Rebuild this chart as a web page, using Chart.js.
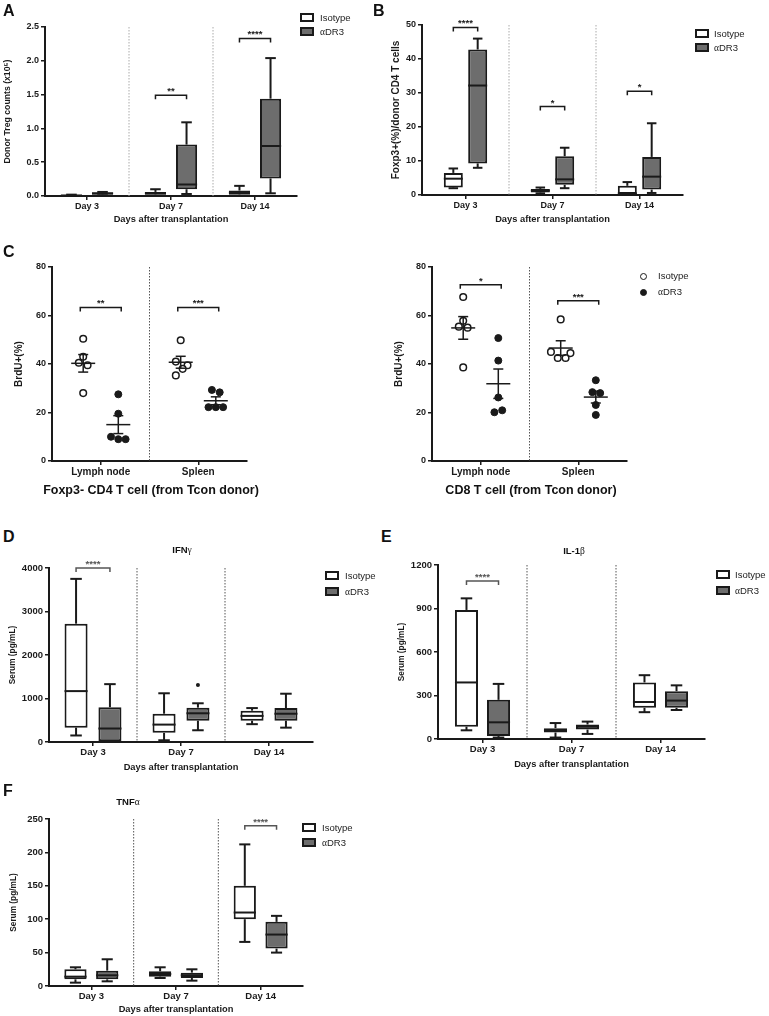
<!DOCTYPE html>
<html>
<head>
<meta charset="utf-8">
<script src="https://cdn.jsdelivr.net/npm/chart.js@4.4.1/dist/chart.umd.min.js"></script>
<style>
  body { margin: 0; background: #fff; font-family: "Liberation Sans", Arial, sans-serif; }
  #page { position: relative; width: 769px; height: 1016px; overflow: hidden; }
  #page canvas { position: absolute; }
  .letter { position: absolute; font-size: 16px; line-height: 16px; font-weight: bold; color: #111; }
  .txt { position: absolute; white-space: nowrap; color: #222; }
  .sw { position: absolute; box-sizing: border-box; border: 2px solid #1a1a1a; }
  .dot { position: absolute; box-sizing: border-box; border-radius: 50%; border: 1.5px solid #1a1a1a; }
  .gk { font-family: "Liberation Serif", "DejaVu Serif", serif; font-weight: normal; }
</style>
</head>
<body>
<div id="page">
  <canvas id="chartA"></canvas>
  <canvas id="chartB"></canvas>
  <canvas id="chartC1"></canvas>
  <canvas id="chartC2"></canvas>
  <canvas id="chartD"></canvas>
  <canvas id="chartE"></canvas>
  <canvas id="chartF"></canvas>
</div>
<script>
// ---- DATA ----
// box plots: one [min, q1, median, q3, max] entry per day
const DAYS = ["Day 3", "Day 7", "Day 14"];

// A: donor Treg counts (x10^5)
const tregIso = [[0.002, 0.005, 0.008, 0.012, 0.02], [0.0, 0.02, 0.04, 0.06, 0.10], [0.0, 0.02, 0.05, 0.08, 0.15]];
const tregDr3 = [[0.01, 0.02, 0.04, 0.05, 0.06], [0.03, 0.10, 0.17, 0.76, 1.09], [0.04, 0.26, 0.74, 1.44, 2.04]];
const tregStars = [null, "**", "****"];
const tregStarY = [null, 1.49, 2.33];

// B: Foxp3+ (%) of donor CD4 T cells
const foxIso = [[2.0, 2.2, 4.8, 6.5, 7.8], [0.5, 0.7, 1.3, 1.8, 2.2], [0.2, 0.3, 0.5, 2.7, 3.8]];
const foxDr3 = [[8.0, 9.3, 32.2, 42.8, 46.0], [2.0, 3.0, 4.6, 11.4, 13.9], [0.6, 1.6, 5.4, 11.2, 21.1]];
const foxStars = ["****", "*", "*"];
const foxStarY = [49.3, 26, 30.5];

// C: BrdU+ (%) per mouse
const SITES = ["Lymph node", "Spleen"];
const cd4IsoLn = [50.4, 43.0, 40.5, 39.5, 28.0];
const cd4IsoSp = [49.8, 41.0, 39.5, 38.0, 35.3];
const cd4Dr3Ln = [27.5, 19.5, 10.0, 9.0, 9.0];
const cd4Dr3Sp = [29.3, 28.3, 22.2, 22.2, 22.2];
const cd8IsoLn = [67.6, 57.8, 55.4, 55.0, 38.6];
const cd8IsoSp = [58.4, 45.0, 42.5, 42.5, 44.5];
const cd8Dr3Ln = [50.7, 41.4, 26.2, 20.9, 20.1];
const cd8Dr3Sp = [33.3, 28.4, 28.0, 23.1, 19.0];
// sideways spread of the dots inside one column (x axis units)
const cd4IsoLnJit = [0, 0, -0.045, 0.045, 0];
const cd4IsoSpJit = [0, -0.05, 0.07, 0.02, -0.05];
const cd4Dr3LnJit = [0, 0, -0.075, 0, 0.075];
const cd4Dr3SpJit = [-0.04, 0.04, -0.075, 0, 0.075];
const cd8IsoLnJit = [0, 0, -0.045, 0.045, 0];
const cd8IsoSpJit = [0, -0.1, -0.03, 0.05, 0.1];
const cd8Dr3LnJit = [0, 0, 0, 0.04, -0.04];
const cd8Dr3SpJit = [0, -0.035, 0.045, 0, 0];
const cd4Stars = ["**", "***"];
const cd4StarY = [63.3, 63.3];
const cd8Stars = ["*", "***"];
const cd8StarY = [72.7, 66.1];

// D: IFN-gamma serum (pg/mL)
const ifnIso = [[150, 330, 1170, 2720, 3750], [40, 210, 400, 650, 1120], [410, 490, 600, 720, 780]];
const ifnDr3 = [[0, 0, 310, 800, 1330], [270, 490, 660, 790, 890], [330, 490, 650, 780, 1110]];
const ifnDr3Outliers = [null, 1310, null];
const ifnStars = ["****", null, null];
const ifnStarY = [4000, null, null];

// E: IL-1beta serum (pg/mL)
const il1Iso = [[60, 85, 390, 890, 970], [10, 45, 60, 75, 110], [185, 215, 255, 390, 440]];
const il1Dr3 = [[10, 20, 115, 270, 380], [35, 65, 85, 100, 120], [200, 215, 265, 330, 370]];
const il1Stars = ["****", null, null];
const il1StarY = [1090, null, null];

// F: TNF-alpha serum (pg/mL)
const tnfIso = [[5, 10, 14, 25, 28], [12, 14, 18, 22, 28], [66, 100, 110, 150, 212]];
const tnfDr3 = [[7, 10, 16, 23, 40], [8, 12, 16, 20, 25], [50, 56, 77, 96, 105]];
const tnfStars = [null, null, "****"];
const tnfStarY = [null, null, 240];

// ---- STYLE ----
const INK = "#1a1a1a";
const GREY = "#6d6d6d";
const FONT = "Liberation Sans";
const page = document.getElementById("page");

// work out padding / axis sizes so the plot area lands where it should
function frame(g, yTitleSize, xTitleSize) {
  const lhY = yTitleSize * 1.2, lhX = xTitleSize * 1.2;
  const padL = g.yTitleX - g.left - lhY / 2;
  const padB = g.top + g.height - g.xTitleY - lhX / 2;
  return {
    padding: { left: padL, top: g.areaTop - g.top, right: g.left + g.width - g.areaRight, bottom: padB },
    yWidth: g.areaLeft - g.left - padL,
    xHeight: g.top + g.height - padB - g.areaBottom
  };
}

function placeCanvas(id, g) {
  const el = document.getElementById(id);
  el.width = g.width; el.height = g.height;
  el.style.left = g.left + "px"; el.style.top = g.top + "px";
  return el;
}

function bold(size) {
  return { family: FONT, size: size, weight: "bold" };
}

function line(ctx, x1, y1, x2, y2) {
  ctx.beginPath(); ctx.moveTo(x1, y1); ctx.lineTo(x2, y2); ctx.stroke();
}

function bracket(ctx, x1, x2, y, text, color) {
  ctx.strokeStyle = color; ctx.lineWidth = 1.5;
  ctx.beginPath();
  ctx.moveTo(x1, y + 4); ctx.lineTo(x1, y); ctx.lineTo(x2, y); ctx.lineTo(x2, y + 4);
  ctx.stroke();
  ctx.fillStyle = color;
  ctx.font = "bold 9.5px " + FONT;
  ctx.textAlign = "center"; ctx.textBaseline = "alphabetic";
  ctx.fillText(text, (x1 + x2) / 2, y - 1);
}

function dottedDivider(ctx, area, x, color) {
  ctx.save();
  ctx.strokeStyle = color; ctx.lineWidth = 1; ctx.setLineDash([1.5, 1.5]);
  line(ctx, x, area.top, x, area.bottom);
  ctx.restore();
}

// whiskers, medians, dividers and significance marks for the box panels
function boxMarks(p) {
  return {
    id: "boxMarks",
    beforeDatasetsDraw(chart) {
      const x = chart.scales.x, area = chart.chartArea;
      for (let k = 0; k < DAYS.length - 1; k++) {
        dottedDivider(chart.ctx, area, (x.getPixelForValue(k) + x.getPixelForValue(k + 1)) / 2, p.divColor);
      }
    },
    afterDatasetsDraw(chart) {
      const ctx = chart.ctx, y = chart.scales.y;
      ctx.save();
      chart.data.datasets.forEach((ds, i) => {
        chart.getDatasetMeta(i).data.forEach((bar, j) => {
          const s = ds.stats[j], cx = bar.x, half = bar.width / 2, cap = bar.width * 0.25;
          ctx.strokeStyle = INK; ctx.lineWidth = 2;
          line(ctx, cx, y.getPixelForValue(s[3]), cx, y.getPixelForValue(s[4]));
          line(ctx, cx, y.getPixelForValue(s[1]), cx, y.getPixelForValue(s[0]));
          line(ctx, cx - cap, y.getPixelForValue(s[4]), cx + cap, y.getPixelForValue(s[4]));
          line(ctx, cx - cap, y.getPixelForValue(s[0]), cx + cap, y.getPixelForValue(s[0]));
          line(ctx, cx - half, y.getPixelForValue(s[2]), cx + half, y.getPixelForValue(s[2]));
          if (i === 1 && p.outliers && p.outliers[j] != null) {
            ctx.fillStyle = INK;
            ctx.beginPath(); ctx.arc(cx, y.getPixelForValue(p.outliers[j]), 2, 0, Math.PI * 2); ctx.fill();
          }
        });
      });
      const m0 = chart.getDatasetMeta(0).data, m1 = chart.getDatasetMeta(1).data;
      p.stars.forEach((t, j) => {
        if (t) bracket(ctx, m0[j].x, m1[j].x, y.getPixelForValue(p.starY[j]), t, p.starColor);
      });
      ctx.restore();
    }
  };
}

function axisCommon(tickFont) {
  return {
    border: { color: INK, width: 2 },
    grid: { drawOnChartArea: false, offset: false, color: INK, lineWidth: 1.5, tickLength: 4 },
    ticks: { font: tickFont, color: INK, padding: 1, maxRotation: 0, autoSkip: false }
  };
}

function boxChart(id, g, iso, dr3, p) {
  const f = frame(g, p.yTitleSize, p.xTitleSize);
  const x = axisCommon(bold(p.tickSize)), y = axisCommon(bold(p.tickSize));
  x.title = { display: true, text: "Days after transplantation", font: bold(p.xTitleSize), color: INK, padding: 0 };
  x.afterFit = s => { s.height = f.xHeight; };
  y.min = 0; y.max = p.yMax;
  y.ticks.stepSize = p.yStep;
  y.ticks.padding = 2;
  y.ticks.callback = v => p.decimals ? v.toFixed(1) : v;
  y.title = { display: true, text: p.yTitle, font: bold(p.yTitleSize), color: INK, padding: 0 };
  y.afterFit = s => { s.width = f.yWidth; };
  const common = { borderColor: INK, borderWidth: 2, borderSkipped: false, categoryPercentage: p.cp, barPercentage: p.bp };
  return new Chart(placeCanvas(id, g), {
    type: "bar",
    data: {
      labels: DAYS,
      datasets: [
        Object.assign({ label: "Isotype", data: iso.map(s => [s[1], s[3]]), stats: iso, backgroundColor: "#fff" }, common),
        Object.assign({ label: "αDR3", data: dr3.map(s => [s[1], s[3]]), stats: dr3, backgroundColor: GREY }, common)
      ]
    },
    options: {
      responsive: false, animation: false,
      layout: { padding: f.padding },
      plugins: { legend: { display: false }, tooltip: { enabled: false } },
      scales: { x, y }
    },
    plugins: [boxMarks(p)]
  });
}

// ---- SCATTER PANELS (C) ----
const ISO_POS = -0.18, DR3_POS = 0.18;

function dots(ln, lnJit, sp, spJit, pos) {
  return ln.map((v, k) => ({ x: 1 + pos + lnJit[k], y: v }))
    .concat(sp.map((v, k) => ({ x: 2 + pos + spJit[k], y: v })));
}

function meanMarks(groups, stars, starY) {
  return {
    id: "meanMarks",
    beforeDatasetsDraw(chart) {
      dottedDivider(chart.ctx, chart.chartArea, chart.scales.x.getPixelForValue(1.5), "#555");
    },
    afterDatasetsDraw(chart) {
      const ctx = chart.ctx, x = chart.scales.x, y = chart.scales.y;
      ctx.save();
      ctx.strokeStyle = INK; ctx.lineWidth = 1.5;
      groups.forEach(gp => {
        const n = gp.values.length;
        const mean = gp.values.reduce((a, b) => a + b, 0) / n;
        const sd = Math.sqrt(gp.values.reduce((a, b) => a + (b - mean) * (b - mean), 0) / (n - 1));
        const sem = sd / Math.sqrt(n);
        const cx = x.getPixelForValue(gp.x);
        const yHi = y.getPixelForValue(mean + sem), yLo = y.getPixelForValue(mean - sem);
        line(ctx, cx - 12, y.getPixelForValue(mean), cx + 12, y.getPixelForValue(mean));
        line(ctx, cx, yHi, cx, yLo);
        line(ctx, cx - 5, yHi, cx + 5, yHi);
        line(ctx, cx - 5, yLo, cx + 5, yLo);
      });
      stars.forEach((t, j) => {
        bracket(ctx, x.getPixelForValue(j + 1 + ISO_POS - 0.03), x.getPixelForValue(j + 1 + DR3_POS + 0.03),
          y.getPixelForValue(starY[j]), t, INK);
      });
      ctx.restore();
    }
  };
}

function scatterChart(id, g, isoLn, isoLnJit, isoSp, isoSpJit, dr3Ln, dr3LnJit, dr3Sp, dr3SpJit, stars, starY) {
  const f = frame(g, 10, 13);
  const x = axisCommon(bold(10)), y = axisCommon(bold(9));
  x.type = "linear"; x.min = 0.5; x.max = 2.5;
  x.afterBuildTicks = s => { s.ticks = [{ value: 1 }, { value: 2 }]; };
  x.ticks.callback = v => SITES[v - 1];
  x.ticks.padding = 1;
  x.afterFit = s => { s.height = f.xHeight; };
  y.min = 0; y.max = 80; y.ticks.stepSize = 20; y.ticks.padding = 2;
  y.title = { display: true, text: "BrdU+(%)", font: bold(10), color: INK, padding: 0 };
  y.afterFit = s => { s.width = f.yWidth; };
  const groups = [
    { x: 1 + ISO_POS, values: isoLn }, { x: 2 + ISO_POS, values: isoSp },
    { x: 1 + DR3_POS, values: dr3Ln }, { x: 2 + DR3_POS, values: dr3Sp }
  ];
  return new Chart(placeCanvas(id, g), {
    type: "scatter",
    data: {
      datasets: [
        { label: "Isotype", data: dots(isoLn, isoLnJit, isoSp, isoSpJit, ISO_POS), pointRadius: 3.3,
          pointBackgroundColor: "#fff", pointBorderColor: INK, pointBorderWidth: 1.5 },
        { label: "αDR3", data: dots(dr3Ln, dr3LnJit, dr3Sp, dr3SpJit, DR3_POS), pointRadius: 3.5,
          pointBackgroundColor: INK, pointBorderColor: INK, pointBorderWidth: 1 }
      ]
    },
    options: {
      responsive: false, animation: false,
      layout: { padding: f.padding },
      plugins: { legend: { display: false }, tooltip: { enabled: false } },
      scales: { x, y }
    },
    plugins: [meanMarks(groups, stars, starY)]
  });
}

// ---- HTML TEXT (letters, titles, legends) ----
function addText(html, left, centerY, size, cls, extra) {
  const d = document.createElement("div");
  d.className = cls;
  d.innerHTML = html;
  d.style.left = left + "px";
  d.style.top = (centerY - size * 0.6) + "px";
  d.style.fontSize = size + "px";
  d.style.lineHeight = (size * 1.2) + "px";
  if (extra) Object.assign(d.style, extra);
  page.appendChild(d);
}

function addLetter(t, left, top) {
  const d = document.createElement("div");
  d.className = "letter"; d.textContent = t;
  d.style.left = left + "px"; d.style.top = top + "px";
  page.appendChild(d);
}

function boxLegend(x, y1, y2, tx) {
  [[y1, "#fff", "Isotype"], [y2, GREY, '<span class="gk">α</span>DR3']].forEach(([yy, fill, label]) => {
    const s = document.createElement("div");
    s.className = "sw";
    Object.assign(s.style, { left: x + "px", top: yy + "px", width: "14px", height: "9px", background: fill });
    page.appendChild(s);
    addText(label, tx, yy + 4.5, 9.5, "txt");
  });
}

function centredText(html, cx, cy, size) {
  addText(html, cx, cy, size, "txt", { fontWeight: "bold", transform: "translateX(-50%)", color: "#111" });
}

// ---- BUILD ----
boxChart("chartA", { left: 0, top: 0, width: 380, height: 226, areaLeft: 45, areaTop: 27, areaRight: 297, areaBottom: 196, yTitleX: 8, xTitleY: 219 },
  tregIso, tregDr3, { yMax: 2.5, yStep: 0.5, decimals: true, yTitle: "Donor Treg counts (x10\u2075)", stars: tregStars, starY: tregStarY,
    starColor: INK, divColor: "#aaa", cp: 0.74, bp: 0.68, tickSize: 9, yTitleSize: 8.7, xTitleSize: 9.3 });
boxChart("chartB", { left: 380, top: 0, width: 389, height: 226, areaLeft: 422, areaTop: 25, areaRight: 683, areaBottom: 195, yTitleX: 396, xTitleY: 219 },
  foxIso, foxDr3, { yMax: 50, yStep: 10, yTitle: "Foxp3+(%)/donor CD4 T cells", stars: foxStars, starY: foxStarY,
    starColor: INK, divColor: "#aaa", cp: 0.56, bp: 0.78, tickSize: 9, yTitleSize: 10, xTitleSize: 9.3 });

scatterChart("chartC1", { left: 0, top: 226, width: 380, height: 284, areaLeft: 52, areaTop: 267, areaRight: 247, areaBottom: 461, yTitleX: 19, xTitleY: 490 },
  cd4IsoLn, cd4IsoLnJit, cd4IsoSp, cd4IsoSpJit, cd4Dr3Ln, cd4Dr3LnJit, cd4Dr3Sp, cd4Dr3SpJit, cd4Stars, cd4StarY);
scatterChart("chartC2", { left: 380, top: 226, width: 389, height: 284, areaLeft: 432, areaTop: 267, areaRight: 627, areaBottom: 461, yTitleX: 399, xTitleY: 490 },
  cd8IsoLn, cd8IsoLnJit, cd8IsoSp, cd8IsoSpJit, cd8Dr3Ln, cd8Dr3LnJit, cd8Dr3Sp, cd8Dr3SpJit, cd8Stars, cd8StarY);
// the C axis titles are wider than their plots, so they sit outside the canvas
centredText("Foxp3- CD4 T cell (from Tcon donor)", 151, 490, 12.5);
centredText("CD8 T cell (from Tcon donor)", 531, 490, 12.5);

boxChart("chartD", { left: 0, top: 545, width: 380, height: 235, areaLeft: 49, areaTop: 568, areaRight: 313, areaBottom: 742, yTitleX: 13, xTitleY: 767 },
  ifnIso, ifnDr3, { yMax: 4000, yStep: 1000, yTitle: "Serum (pg/mL)", stars: ifnStars, starY: ifnStarY, outliers: ifnDr3Outliers,
    starColor: "#555", divColor: "#555", cp: 0.77, bp: 0.68, tickSize: 9.5, yTitleSize: 8.3, xTitleSize: 9.3 });
boxChart("chartE", { left: 380, top: 545, width: 389, height: 235, areaLeft: 438, areaTop: 565, areaRight: 705, areaBottom: 739, yTitleX: 402, xTitleY: 764 },
  il1Iso, il1Dr3, { yMax: 1200, yStep: 300, yTitle: "Serum (pg/mL)", stars: il1Stars, starY: il1StarY,
    starColor: "#555", divColor: "#555", cp: 0.72, bp: 0.72, tickSize: 9.5, yTitleSize: 8.3, xTitleSize: 9.3 });
boxChart("chartF", { left: 0, top: 800, width: 380, height: 216, areaLeft: 49, areaTop: 819, areaRight: 303, areaBottom: 986, yTitleX: 14, xTitleY: 1009 },
  tnfIso, tnfDr3, { yMax: 250, yStep: 50, yTitle: "Serum (pg/mL)", stars: tnfStars, starY: tnfStarY,
    starColor: "#555", divColor: "#555", cp: 0.75, bp: 0.7, tickSize: 9.5, yTitleSize: 8.3, xTitleSize: 9.3 });

addLetter("A", 3, 3);
addLetter("B", 373, 3);
addLetter("C", 3, 244);
addLetter("D", 3, 529);
addLetter("E", 381, 529);
addLetter("F", 3, 783);

boxLegend(300, 13, 27, 320);
boxLegend(695, 29, 43, 714);
boxLegend(325, 571, 587, 345);
boxLegend(716, 570, 586, 735);
boxLegend(302, 823, 838, 322);

// C legend uses dots instead of boxes
[[276, "#fff", "Isotype"], [292, INK, '<span class="gk">α</span>DR3']].forEach(([cy, fill, label]) => {
  const d = document.createElement("div");
  d.className = "dot";
  Object.assign(d.style, { left: "640px", top: (cy - 3.5) + "px", width: "7px", height: "7px", background: fill });
  page.appendChild(d);
  addText(label, 658, cy, 9.5, "txt");
});

centredText('IFN<span class="gk">γ</span>', 182, 550, 9.5);
centredText('IL-1<span class="gk">β</span>', 574, 551, 9.5);
centredText('TNF<span class="gk">α</span>', 128, 802, 9.5);
</script>
</body>
</html>
